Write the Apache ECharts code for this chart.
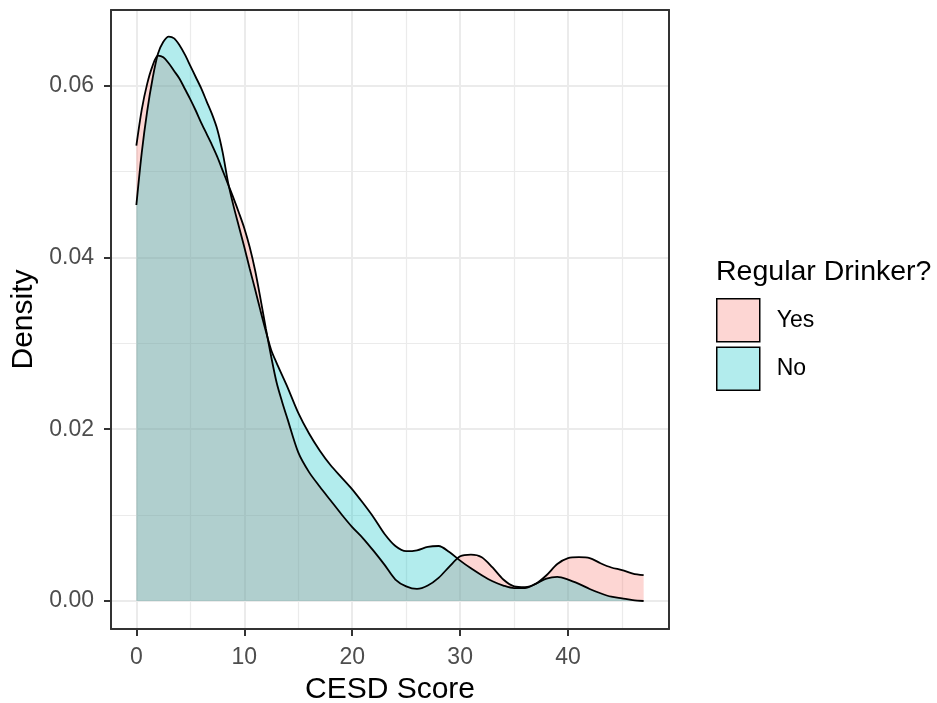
<!DOCTYPE html>
<html>
<head>
<meta charset="utf-8">
<script src="https://cdn.jsdelivr.net/npm/echarts@6/dist/echarts.min.js"></script>
<style>
  html, body { margin: 0; padding: 0; background: #ffffff; }
  #chart { width: 937px; height: 703px; }
</style>
</head>
<body>
<div id="chart"></div>
<script>
// CESD score grid on which the densities are evaluated
const cesdScore = [
  0, 0.5, 1, 1.5, 2, 2.5, 3, 3.5, 4, 4.5, 5, 5.5, 6, 6.5, 7, 7.5, 8, 8.5, 9, 9.5,
  10, 10.5, 11, 11.5, 12, 12.5, 13, 13.5, 14, 15, 16, 17, 18, 19, 20, 21, 22, 23,
  24, 25, 26, 27, 28, 29, 30, 31, 32, 33, 34, 35, 36, 37, 38, 39, 40, 41, 42, 43,
  44, 45, 46, 47
];

// Kernel density of CESD score, regular drinkers
const densityYes = [
  0.0530, 0.0572, 0.0602, 0.0623, 0.0635, 0.0633, 0.0626, 0.0617, 0.0608, 0.0596,
  0.0584, 0.0571, 0.0557, 0.0544, 0.0531, 0.0517, 0.0501, 0.0485, 0.0469, 0.0452,
  0.0434, 0.0412, 0.0385, 0.0352, 0.0317, 0.0284, 0.0254, 0.0232, 0.0212, 0.0173,
  0.0150, 0.0133, 0.0117, 0.0101, 0.0086, 0.0073, 0.0058, 0.0042, 0.0025, 0.0017,
  0.0014, 0.0018, 0.0027, 0.0040, 0.0052, 0.0054, 0.0051, 0.0039, 0.0025, 0.0017,
  0.0016, 0.0020, 0.0030, 0.0043, 0.0050, 0.0051, 0.0050, 0.0044, 0.0039, 0.0036,
  0.0032, 0.0030
];

// Kernel density of CESD score, non-regular drinkers
const densityNo = [
  0.0461, 0.0522, 0.0570, 0.0608, 0.0637, 0.0651, 0.0657, 0.0655, 0.0647, 0.0636,
  0.0623, 0.0610, 0.0597, 0.0582, 0.0567, 0.0549, 0.0522, 0.0487, 0.0460, 0.0436,
  0.0412, 0.0387, 0.0363, 0.0338, 0.0314, 0.0292, 0.0277, 0.0263, 0.0249, 0.0219,
  0.0195, 0.0175, 0.0158, 0.0144, 0.0130, 0.0114, 0.0097, 0.0078, 0.0064, 0.0058,
  0.0059, 0.0063, 0.0064, 0.0057, 0.0047, 0.0038, 0.0030, 0.0023, 0.0018, 0.0015,
  0.0015, 0.0020, 0.0026, 0.0028, 0.0025, 0.0020, 0.0014, 0.0009, 0.0005, 0.0003,
  0.0001, 0.0000
];

const groupNames = ['Yes', 'No'];
const xMajorTicks = [0, 10, 20, 30, 40];
const xMinorTicks = [5, 15, 25, 35, 45];
const yMajorTicks = [0, 0.02, 0.04, 0.06];
const yMinorTicks = [0.01, 0.03, 0.05];

const FONT = "'Liberation Sans', Arial, sans-serif";
const fillYes = 'rgba(248,118,109,0.3)';
const fillNo = 'rgba(0,191,196,0.3)';

const pairs = (xs, ys) => xs.map((x, i) => [x, ys[i]]);

function gridLines(values, axisKey, width) {
  return values.map(v => ({
    [axisKey]: v,
    lineStyle: { color: '#EBEBEB', width: width, type: 'solid' }
  }));
}

const chart = echarts.init(document.getElementById('chart'), null, { renderer: 'canvas' });

const densitySeries = (name, ys, fill) => ({
  name: name,
  type: 'line',
  data: pairs(cesdScore, ys),
  smooth: 0.3,
  showSymbol: false,
  symbol: 'none',
  z: 3,
  lineStyle: { color: '#000000', width: 1.8 },
  itemStyle: { color: fill },
  areaStyle: { color: fill, opacity: 1 },
  emphasis: { disabled: true },
  animation: false
});

const axisLineStyle = { show: true, onZero: false, lineStyle: { color: '#333333', width: 2 } };

chart.setOption({
  animation: false,
  backgroundColor: '#ffffff',
  title: {
    text: 'Regular Drinker?',
    left: 716,
    top: 258,
    padding: 0,
    textStyle: { fontFamily: FONT, fontSize: 28.5, fontWeight: 'normal', color: '#000000' }
  },
  legend: {
    orient: 'vertical',
    left: 716,
    top: 298,
    padding: 0,
    itemWidth: 43,
    itemHeight: 43,
    itemGap: 4,
    selectedMode: false,
    data: [
      { name: groupNames[0], icon: 'rect',
        itemStyle: { color: fillYes, borderColor: '#000000', borderWidth: 1.5 } },
      { name: groupNames[1], icon: 'rect',
        itemStyle: { color: fillNo, borderColor: '#000000', borderWidth: 1.5 } }
    ],
    textStyle: { fontFamily: FONT, fontSize: 23, color: '#000000', padding: [0, 0, 0, 12] }
  },
  grid: { left: 111, right: 268, top: 10, bottom: 74, containLabel: false, outerBoundsMode: 'none' },
  xAxis: [{
    type: 'value',
    min: -2.35,
    max: 49.35,
    z: 10,
    name: 'CESD Score',
    nameLocation: 'middle',
    nameGap: 46,
    nameTextStyle: { fontFamily: FONT, fontSize: 30, color: '#000000' },
    axisLine: axisLineStyle,
    axisTick: { show: true, length: 7, customValues: xMajorTicks,
      lineStyle: { color: '#333333', width: 2 } },
    axisLabel: { show: true, customValues: xMajorTicks, margin: 17,
      fontFamily: FONT, fontSize: 23, color: '#4D4D4D' },
    splitLine: { show: false }
  }, {
    type: 'value',
    position: 'top',
    min: -2.35,
    max: 49.35,
    z: 10,
    axisLine: axisLineStyle,
    axisTick: { show: false },
    axisLabel: { show: false },
    splitLine: { show: false }
  }],
  yAxis: [{
    type: 'value',
    min: -0.00326,
    max: 0.0688,
    z: 10,
    name: 'Density',
    nameLocation: 'middle',
    nameGap: 67,
    nameRotate: 90,
    nameTextStyle: { fontFamily: FONT, fontSize: 30, color: '#000000' },
    axisLine: axisLineStyle,
    axisTick: { show: true, length: 7, customValues: yMajorTicks,
      lineStyle: { color: '#333333', width: 2 } },
    axisLabel: { show: true, customValues: yMajorTicks, margin: 17,
      fontFamily: FONT, fontSize: 23, color: '#4D4D4D',
      formatter: v => v.toFixed(2) },
    splitLine: { show: false }
  }, {
    type: 'value',
    position: 'right',
    min: -0.00326,
    max: 0.0688,
    z: 10,
    axisLine: axisLineStyle,
    axisTick: { show: false },
    axisLabel: { show: false },
    splitLine: { show: false }
  }],
  series: [
    {
      // panel grid lines, drawn beneath the density areas
      name: 'panel-grid',
      type: 'line',
      data: [],
      z: 1,
      silent: true,
      markLine: {
        z: 1,
        silent: true,
        symbol: 'none',
        label: { show: false },
        animation: false,
        emphasis: { disabled: true },
        data: [].concat(
          gridLines(xMinorTicks, 'xAxis', 1.2),
          gridLines(yMinorTicks, 'yAxis', 1.2),
          gridLines(xMajorTicks, 'xAxis', 2),
          gridLines(yMajorTicks, 'yAxis', 2)
        )
      }
    },
    densitySeries(groupNames[0], densityYes, fillYes),
    densitySeries(groupNames[1], densityNo, fillNo)
  ]
});
</script>
</body>
</html>
